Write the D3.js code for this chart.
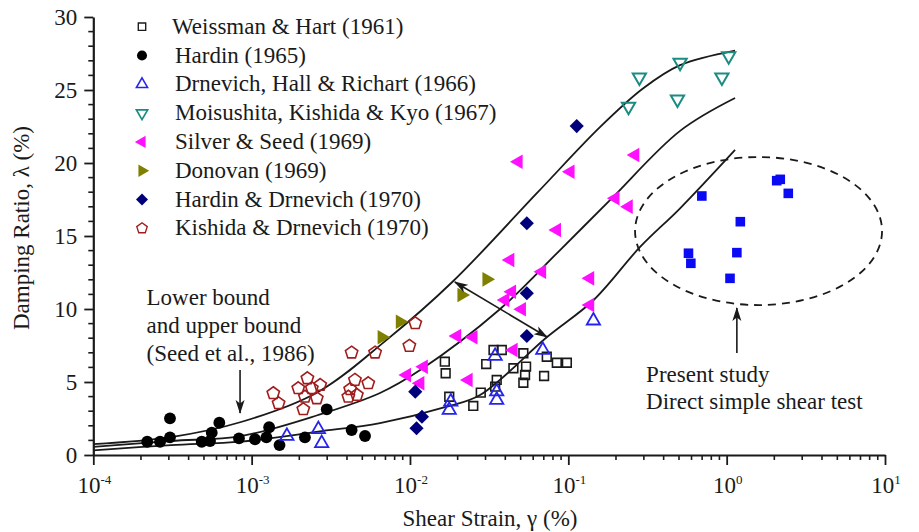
<!DOCTYPE html>
<html>
<head>
<meta charset="utf-8">
<script src="https://cdn.jsdelivr.net/npm/d3@7"></script>
<style>
  body { margin: 0; background: #fff; }
  svg text { font-family: "Liberation Serif", "Times New Roman", serif; fill: #1a1a1a; }
</style>
</head>
<body>
<svg id="chart" width="919" height="532"></svg>
<script>
// ---- Data: shear strain γ (%) and damping ratio λ (%) ----
const weissmanHart1961 = [
  [1.66e-2, 6.39], [1.68e-2, 5.60], [3.37e-2, 7.19], [3.80e-2, 7.19], [3.03e-2, 6.23],
  [5.20e-2, 6.97], [7.31e-2, 6.73], [8.46e-2, 6.32], [9.79e-2, 6.32], [4.50e-2, 5.94],
  [5.41e-2, 6.05], [5.33e-2, 5.48], [3.53e-2, 5.14], [5.20e-2, 4.95], [7.03e-2, 5.41],
  [3.45e-2, 4.68], [2.80e-2, 4.27], [2.51e-2, 3.36], [1.77e-2, 3.99]
];
const hardin1965 = [
  [2.19e-4, 0.91], [2.64e-4, 0.91], [3.05e-4, 1.21], [3.05e-4, 2.51], [4.84e-4, 0.91],
  [5.46e-4, 0.96], [5.60e-4, 1.53], [6.25e-4, 2.21], [8.32e-4, 1.14], [1.05e-3, 1.08],
  [1.24e-3, 1.21], [1.29e-3, 1.90], [1.50e-3, 0.68], [2.17e-3, 1.21], [2.98e-3, 3.13],
  [4.28e-3, 1.71], [5.20e-3, 1.30]
];
const drnevichHallRichart1966 = [
  [1.67e-3, 1.30], [2.64e-3, 1.76], [2.77e-3, 0.80], [1.81e-2, 3.65], [1.77e-2, 3.08],
  [3.45e-2, 6.78], [3.53e-2, 4.34], [3.53e-2, 3.77], [6.90e-2, 7.19], [0.144, 9.20]
];
const moisushitaKishidaKyo1967 = [
  [1.03, 27.33], [0.508, 26.87], [0.281, 25.87], [0.933, 25.87], [0.489, 24.36], [0.240, 23.86]
];
const silverSeed1969 = [
  [4.84e-2, 20.09], [0.103, 19.40], [0.264, 20.55], [0.198, 17.58], [0.240, 17.01],
  [8.46e-2, 15.41], [4.29e-2, 13.36], [6.81e-2, 12.55], [0.137, 12.10], [4.40e-2, 11.18],
  [3.99e-2, 10.62], [5.08e-2, 9.98], [0.137, 10.27], [1.98e-2, 8.15], [2.51e-2, 8.06],
  [1.22e-2, 6.05], [9.55e-3, 5.48], [1.16e-2, 4.91], [2.34e-2, 5.14], [4.50e-2, 7.19]
];
const donovan1969 = [
  [6.64e-3, 8.06], [8.65e-3, 9.13], [2.12e-2, 10.96], [3.05e-2, 12.03]
];
const hardinDrnevich1970 = [
  [0.113, 22.53], [5.47e-2, 15.87], [5.47e-2, 11.08], [5.47e-2, 8.15],
  [1.08e-2, 4.34], [1.19e-2, 2.62], [1.10e-2, 1.83]
];
const kishidaDrnevich1970 = [
  [1.37e-3, 4.23], [1.48e-3, 3.54], [1.97e-3, 4.57], [2.25e-3, 5.25], [2.40e-3, 4.57],
  [2.71e-3, 4.79], [2.17e-3, 3.99], [2.58e-3, 3.88], [2.12e-3, 3.13], [4.28e-3, 7.01],
  [6.02e-3, 7.01], [4.49e-3, 5.14], [5.45e-3, 4.91], [4.19e-3, 4.50], [4.62e-3, 4.11],
  [4.08e-3, 3.99], [1.08e-2, 9.02], [9.91e-3, 7.47]
];
const presentStudy = [
  [0.697, 17.74], [2.07, 18.79], [2.18, 18.88], [2.45, 17.92], [1.22, 15.98],
  [0.574, 13.82], [0.594, 13.13], [1.16, 13.86], [1.05, 12.10]
];

// Seed et al. (1986) bounds and average curve
const seedUpper = [
  [1e-4, 0.75], [3.10e-4, 1.23], [8.57e-4, 2.26], [2.63e-3, 4.32], [6.97e-3, 7.8],
  [1.85e-2, 11.85], [6.35e-2, 17.95], [0.159, 22.47], [0.296, 25.1], [0.508, 26.7], [1.13, 27.7]
];
const seedAverage = [
  [1e-4, 0.55], [3.10e-4, 0.96], [8.57e-4, 1.30], [2.63e-3, 2.74], [6.47e-3, 4.25],
  [1.16e-2, 5.82], [3.71e-2, 10.0], [8.87e-2, 14.04], [0.184, 17.47], [0.508, 22.2], [1.13, 24.45]
];
const seedLower = [
  [1e-4, 0.31], [3.10e-4, 0.68], [8.57e-4, 0.92], [2.63e-3, 1.6], [6.47e-3, 2.19],
  [1.71e-2, 3.31], [2.77e-2, 4.11], [7.34e-2, 8.08], [0.144, 10.6], [0.284, 14.25],
  [0.508, 16.9], [1.13, 20.9]
];

// Axis ticks
const xTickExponents = [-4, -3, -2, -1, 0, 1];
const yTicks = [0, 5, 10, 15, 20, 25, 30];

// Legend labels (in drawing order)
const legendLabels = [
  "Weissman & Hart (1961)",
  "Hardin (1965)",
  "Drnevich, Hall & Richart (1966)",
  "Moisushita, Kishida & Kyo (1967)",
  "Silver & Seed (1969)",
  "Donovan (1969)",
  "Hardin & Drnevich (1970)",
  "Kishida & Drnevich (1970)"
];

// ---- Scales ----
const svg = d3.select("#chart");
const x = d3.scaleLog().domain([1e-4, 10]).range([93.3, 885]);
const y = d3.scaleLinear().domain([0, 30]).range([455, 17]);

// ---- Marker shapes ----
function pentagonPath(r) {
  const pts = d3.range(5).map(k => {
    const a = -Math.PI / 2 + k * 2 * Math.PI / 5;
    return [r * Math.cos(a), r * Math.sin(a)];
  });
  return "M" + pts.map(p => p.join(",")).join("L") + "Z";
}
const shapes = {
  openSquare:   { d: d3.symbol(d3.symbolSquare, 76)(), rot: 0, fill: "none", sw: 1.6 },
  dot:          { d: d3.symbol(d3.symbolCircle, 110)(), rot: 0, sw: 0 },
  triUp:        { d: d3.symbol(d3.symbolTriangle, 76)(), rot: 0, fill: "none", sw: 1.8 },
  triDown:      { d: d3.symbol(d3.symbolTriangle, 76)(), rot: 180, fill: "none", sw: 2 },
  triLeft:      { d: d3.symbol(d3.symbolTriangle, 92)(), rot: -90, sw: 0 },
  triRight:     { d: d3.symbol(d3.symbolTriangle, 92)(), rot: 90, sw: 0 },
  diamond:      { d: d3.symbol(d3.symbolSquare, 100)(), rot: 45, sw: 0 },
  pentagon:     { d: pentagonPath(6.5), rot: 0, fill: "none", sw: 1.6 },
  filledSquare: { d: d3.symbol(d3.symbolSquare, 92)(), rot: 0, sw: 0 }
};

const series = [
  { data: weissmanHart1961,        shape: "openSquare", color: "#1a1a1a" },
  { data: hardin1965,              shape: "dot",        color: "#000000" },
  { data: drnevichHallRichart1966, shape: "triUp",      color: "#2424ee" },
  { data: moisushitaKishidaKyo1967,shape: "triDown",    color: "#1c8c82" },
  { data: silverSeed1969,          shape: "triLeft",    color: "#ff10ff" },
  { data: donovan1969,             shape: "triRight",   color: "#7f7f00" },
  { data: hardinDrnevich1970,      shape: "diamond",    color: "#00007a" },
  { data: kishidaDrnevich1970,     shape: "pentagon",   color: "#a11d1d" }
];

function drawMarker(g, shapeKey, color, cx, cy, scale) {
  const s = shapes[shapeKey];
  const open = s.fill === "none";
  g.append("path")
    .attr("d", s.d)
    .attr("transform", `translate(${cx},${cy}) rotate(${s.rot}) scale(${scale || 1})`)
    .attr("fill", open ? "none" : color)
    .attr("stroke", open ? color : "none")
    .attr("stroke-width", s.sw);
}

// ---- Arrow heads ----
const defs = svg.append("defs");
defs.append("marker")
  .attr("id", "arrowHead")
  .attr("viewBox", "0 0 14 10")
  .attr("refX", 13).attr("refY", 5)
  .attr("markerWidth", 14).attr("markerHeight", 10)
  .attr("markerUnits", "userSpaceOnUse")
  .attr("orient", "auto-start-reverse")
  .append("path")
  .attr("d", "M0,0.5 L14,5 L0,9.5 L3.5,5 Z")
  .attr("fill", "#1a1a1a");

// ---- Axes ----
const axisColor = "#1a1a1a";

// minor ticks
const xMinor = x.ticks().filter(v => Math.abs(Math.log10(v) - Math.round(Math.log10(v))) > 1e-6);
svg.append("g").selectAll("line").data(xMinor).join("line")
  .attr("x1", d => x(d)).attr("x2", d => x(d))
  .attr("y1", y(0)).attr("y2", y(0) + 5)
  .attr("stroke", axisColor).attr("stroke-width", 1.6);

const yMinor = y.ticks(30).filter(v => v % 5 !== 0);
svg.append("g").selectAll("line").data(yMinor).join("line")
  .attr("x1", x(1e-4) - 5).attr("x2", x(1e-4))
  .attr("y1", d => y(d)).attr("y2", d => y(d))
  .attr("stroke", axisColor).attr("stroke-width", 1.6);

// x axis
const xAxis = svg.append("g")
  .attr("transform", `translate(0,${y(0)})`)
  .call(d3.axisBottom(x)
    .tickValues(xTickExponents.map(e => Math.pow(10, e)))
    .tickSize(10).tickSizeOuter(0).tickFormat(""));
xAxis.select(".domain").attr("stroke", axisColor).attr("stroke-width", 2.2);
xAxis.selectAll(".tick line").attr("stroke", axisColor).attr("stroke-width", 1.8);

const xLabels = svg.append("g").selectAll("text").data(xTickExponents).join("text")
  .attr("x", d => x(Math.pow(10, d)) + 1)
  .attr("y", 493)
  .attr("text-anchor", "middle")
  .style("font-size", "23px");
xLabels.append("tspan").text("10");
xLabels.append("tspan").attr("dy", -9).style("font-size", "13px").text(d => d < 0 ? "-" + Math.abs(d) : String(d));

// y axis
const yAxis = svg.append("g")
  .attr("transform", `translate(${x(1e-4)},0)`)
  .call(d3.axisLeft(y).tickValues(yTicks).tickSize(9).tickSizeOuter(0).tickPadding(7));
yAxis.select(".domain").attr("stroke", axisColor).attr("stroke-width", 2.2);
yAxis.selectAll(".tick line").attr("stroke", axisColor).attr("stroke-width", 1.8);
yAxis.selectAll(".tick text")
  .style("font-size", "23px")
  .style("font-family", "'Liberation Serif','Times New Roman',serif")
  .attr("fill", "#1a1a1a");

// axis titles
svg.append("text")
  .attr("x", 490).attr("y", 526)
  .attr("text-anchor", "middle")
  .style("font-size", "23px")
  .text("Shear Strain, γ (%)");
svg.append("text")
  .attr("transform", "translate(29,228) rotate(-90)")
  .attr("text-anchor", "middle")
  .style("font-size", "23px")
  .text("Damping Ratio, λ (%)");

// ---- Seed et al. (1986) curves ----
const line = d3.line()
  .x(d => x(d[0])).y(d => y(d[1]))
  .curve(d3.curveCatmullRom.alpha(0.5));
svg.append("g").selectAll("path")
  .data([seedUpper, seedAverage, seedLower]).join("path")
  .attr("d", line)
  .attr("fill", "none")
  .attr("stroke", "#1a1a1a")
  .attr("stroke-width", 1.8);

// ---- Present study region ----
const ellipseCenter = [1.59, 15.34];
const ellipseHalfDecades = 0.78;
const ellipseHalfLambda = 5.07;
svg.append("ellipse")
  .attr("cx", x(ellipseCenter[0]))
  .attr("cy", y(ellipseCenter[1]))
  .attr("rx", x(ellipseCenter[0] * Math.pow(10, ellipseHalfDecades)) - x(ellipseCenter[0]))
  .attr("ry", y(ellipseCenter[1] - ellipseHalfLambda) - y(ellipseCenter[1]))
  .attr("fill", "none")
  .attr("stroke", "#1a1a1a")
  .attr("stroke-width", 1.8)
  .attr("stroke-dasharray", "8,6");

// ---- Data points ----
const pts = svg.append("g");
series.forEach(s => {
  s.data.forEach(d => drawMarker(pts, s.shape, s.color, x(d[0]), y(d[1]), 1));
});
presentStudy.forEach(d => drawMarker(pts, "filledSquare", "#0a0af5", x(d[0]), y(d[1]), 1));

// ---- Annotations ----
function arrow(from, to, both) {
  const p = svg.append("line")
    .attr("x1", x(from[0])).attr("y1", y(from[1]))
    .attr("x2", x(to[0])).attr("y2", y(to[1]))
    .attr("stroke", "#1a1a1a").attr("stroke-width", 1.6)
    .attr("marker-end", "url(#arrowHead)");
  if (both) p.attr("marker-start", "url(#arrowHead)");
}
arrow([1.92e-2, 11.85], [7.34e-2, 8.08], true);   // spread between the bounds
arrow([8.45e-4, 5.82], [8.45e-4, 2.88], false);   // to the bound curves
arrow([1.16, 6.99], [1.16, 10.07], false);         // to the present-study region

function textBlock(anchor, lines, spacing) {
  const t = svg.append("text")
    .attr("x", x(anchor[0])).attr("y", y(anchor[1]))
    .style("font-size", "23px");
  lines.forEach((s, i) => t.append("tspan")
    .attr("x", x(anchor[0])).attr("dy", i === 0 ? 0 : spacing).text(s));
}
textBlock([2.17e-4, 10.27], ["Lower bound", "and upper bound", "(Seed et al., 1986)"], 28);
textBlock([0.310, 5.02], ["Present study", "Direct simple shear test"], 27);

// ---- Legend ----
const legend = svg.append("g");
const legendX = 142, legendY0 = 26.7, legendStep = 28.8;
series.forEach((s, i) => {
  const cy = legendY0 + i * legendStep;
  drawMarker(legend, s.shape, s.color, legendX, cy, 0.85);
  legend.append("text")
    .attr("x", i === 0 ? 172 : 175)
    .attr("y", cy + 7)
    .style("font-size", "23px")
    .text(legendLabels[i]);
});
</script>
</body>
</html>
